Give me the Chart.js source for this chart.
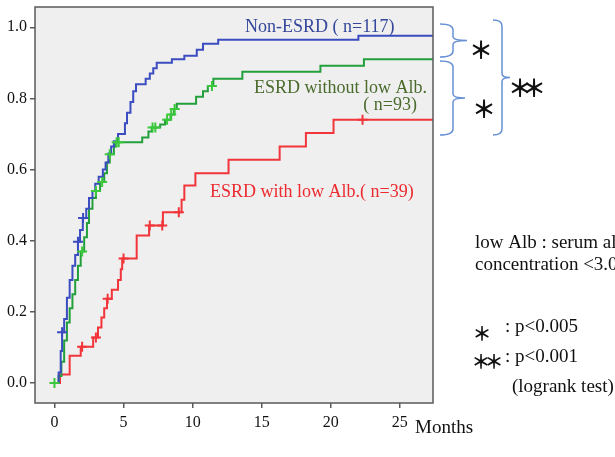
<!DOCTYPE html>
<html><head><meta charset="utf-8">
<script src="https://cdn.jsdelivr.net/npm/chart.js@4.4.1/dist/chart.umd.min.js"></script>
<style>html,body{margin:0;padding:0;background:#fff}#wrap{width:615px;height:457px}</style>
</head><body><div id="wrap"><canvas id="c" width="615" height="457"></canvas></div>
<script>
// Kaplan-Meier cumulative curves (months, proportion)
var nonEsrdT=[0.2,0.3,0.45,0.55,0.7,0.9,1.1,1.3,1.5,1.7,1.85,2.05,2.3,2.5,2.75,2.95,3.2,3.5,3.7,3.9,4.1,4.3,4.6,5.1,5.25,5.5,5.7,5.9,6.6,6.9,7.15,7.4,8.5,9.4,10.3,10.75,11.85,22.0,28];
var nonEsrdS=[0,0.03,0.09,0.143,0.18,0.24,0.29,0.33,0.36,0.397,0.43,0.464,0.49,0.52,0.54,0.56,0.58,0.6,0.62,0.645,0.665,0.68,0.70,0.73,0.76,0.79,0.82,0.84,0.855,0.87,0.885,0.90,0.91,0.92,0.937,0.954,0.965,0.976,0.976];
var esrdT=[0,0.3,0.5,0.7,0.9,1.1,1.3,1.5,1.7,1.9,2.15,2.35,2.5,2.75,3.0,3.3,3.6,3.8,4.0,4.3,4.45,6.35,6.8,7.05,7.65,8.0,8.4,8.65,8.85,10.25,10.75,11.1,11.5,13.6,19.25,22.4,28];
var esrdS=[0,0.02,0.06,0.12,0.17,0.21,0.25,0.29,0.33,0.37,0.41,0.45,0.49,0.52,0.54,0.565,0.59,0.62,0.643,0.665,0.677,0.69,0.707,0.718,0.727,0.74,0.755,0.77,0.785,0.805,0.82,0.835,0.855,0.875,0.892,0.91,0.91];
var lowAlbT=[0.2,0.4,1.1,1.9,2.8,3.15,3.4,3.6,3.8,4.15,4.6,4.8,4.9,5.95,6.85,7.85,9.2,9.4,10.2,12.6,16.3,18.2,20.2,28];
var lowAlbS=[0,0.024,0.077,0.102,0.128,0.156,0.184,0.21,0.237,0.262,0.29,0.32,0.35,0.415,0.443,0.48,0.515,0.555,0.59,0.628,0.665,0.703,0.74,0.74];
// censor marks
var nonEsrdCT=[0.55,1.7,2.07], nonEsrdCS=[0.143,0.397,0.464];
var esrdCT=[0.0,2.0,3.0,3.45,4.0,4.5,4.65,7.1,7.3,8.15,8.45,8.7,11.4];
var esrdCS=[0,0.37,0.54,0.565,0.643,0.677,0.677,0.718,0.718,0.74,0.755,0.77,0.835];
var lowAlbCT=[2.0,3.0,3.85,5.0,6.9,7.8,9.0,22.3], lowAlbCS=[0.102,0.128,0.237,0.35,0.443,0.443,0.48,0.74];
var xTicks=[0,5,10,15,20,25], yTicks=[0,0.2,0.4,0.6,0.8,1.0];

var BLUE='#3b4cc0', GREEN='#23a03c', GREEN2='#3cc83c', RED='#f2353a';
var SERIF='"Liberation Serif","DejaVu Serif",serif';
function pts(t,s){return t.map(function(x,i){return {x:x,y:s[i]};});}
function km(t,s,c){return {type:'line',data:pts(t,s),borderColor:c,borderWidth:2,stepped:true,pointRadius:0,fill:false,order:2};}
function cens(t,s,c){return {type:'scatter',data:pts(t,s),borderColor:c,backgroundColor:c,pointStyle:'cross',pointRadius:5,borderWidth:2,order:1};}

var frame={id:'frame',
  beforeDatasetsDraw:function(ch){var a=ch.chartArea,x=ch.ctx;x.save();x.fillStyle='#efefef';x.fillRect(a.left,a.top,a.right-a.left,a.bottom-a.top);x.restore();},
  afterDatasetsDraw:function(ch){var a=ch.chartArea,x=ch.ctx;x.save();x.strokeStyle='#5a5a5a';x.lineWidth=1.5;x.strokeRect(a.left,a.top,a.right-a.left,a.bottom-a.top);x.restore();},
  afterDraw:function(ch){
    var x=ch.ctx;x.save();
    x.textBaseline='alphabetic';
    x.font='18px '+SERIF;
    x.fillStyle='#34469a';x.textAlign='left';x.fillText('Non-ESRD ( n=117)',245,32);
    x.fillStyle='#4a6b2c';x.textAlign='right';x.fillText('ESRD without low Alb.',427,93);x.fillText('( n=93)',417,110);
    x.fillStyle='#ec2a2f';x.textAlign='left';x.fillText('ESRD with low Alb.( n=39)',210,197);
    x.fillStyle='#111';x.font='19px '+SERIF;x.fillText('Months',415,433);
    x.fillText('low Alb : serum albumin',475,248);
    x.fillText('concentration <3.0 g/dl',475,270);
    x.fillText(': p<0.005',505,332);
    x.fillText(': p<0.001',505,362);
    x.fillText('(logrank test)',512,392);
    x.textAlign='center';x.textBaseline='middle';
    x.font='bold 24px "Noto Sans CJK JP"';
    x.fillText('\uFF0A',481,50);x.fillText('\uFF0A',484,109);
    x.fillText('\uFF0A',520,88);x.fillText('\uFF0A',534,88);
    x.font='bold 19px "Noto Sans CJK JP"';
    x.fillText('\uFF0A',482,334);
    x.fillText('\uFF0A',481,362);x.fillText('\uFF0A',494,362);
    // braces
    x.strokeStyle='#6790d4';x.lineWidth=1.5;
    function brace(x0,y0,y1,w,tw){var m=(y0+y1)/2,xm=x0+w;x.beginPath();x.moveTo(x0,y0);x.quadraticCurveTo(xm,y0,xm,y0+6);x.lineTo(xm,m-4);x.quadraticCurveTo(xm,m,xm+tw,m);x.quadraticCurveTo(xm,m,xm,m+4);x.lineTo(xm,y1-6);x.quadraticCurveTo(xm,y1,x0,y1);x.stroke();}
    brace(440,24,57,13,14);
    brace(440,61,135,13,12);
    brace(493,20,135,9,8);
    x.restore();
  }};

new Chart(document.getElementById('c'),{
  data:{datasets:[km(nonEsrdT,nonEsrdS,BLUE),km(esrdT,esrdS,GREEN),km(lowAlbT,lowAlbS,RED),
    cens(nonEsrdCT,nonEsrdCS,BLUE),cens(esrdCT,esrdCS,GREEN2),cens(lowAlbCT,lowAlbCS,RED)]},
  options:{responsive:false,animation:false,
    layout:{padding:{top:5,right:182,left:0,bottom:0}},
    plugins:{legend:{display:false},tooltip:{enabled:false}},
    scales:{
      x:{type:'linear',min:-1.41,max:27.4,
        afterBuildTicks:function(s){s.ticks=xTicks.map(function(v){return {value:v};});},
        afterFit:function(s){s.height=54;s.paddingLeft=0;s.paddingRight=0;},
        grid:{drawOnChartArea:false,drawTicks:true,tickLength:5,color:'#5a5a5a',lineWidth:1.5},border:{display:false},
        ticks:{padding:5,color:'#111',font:{family:SERIF,size:16},callback:function(v){return v;}}},
      y:{type:'linear',min:-0.056,max:1.057,
        afterBuildTicks:function(s){s.ticks=yTicks.map(function(v){return {value:v};});},
        afterFit:function(s){s.width=35;s.paddingTop=0;s.paddingBottom=0;},
        grid:{drawOnChartArea:false,drawTicks:true,tickLength:5,color:'#5a5a5a',lineWidth:1.5},border:{display:false},
        ticks:{padding:3,color:'#111',font:{family:SERIF,size:16},callback:function(v){return v.toFixed(1);}}}
    }},
  plugins:[frame]
});
</script></body></html>
